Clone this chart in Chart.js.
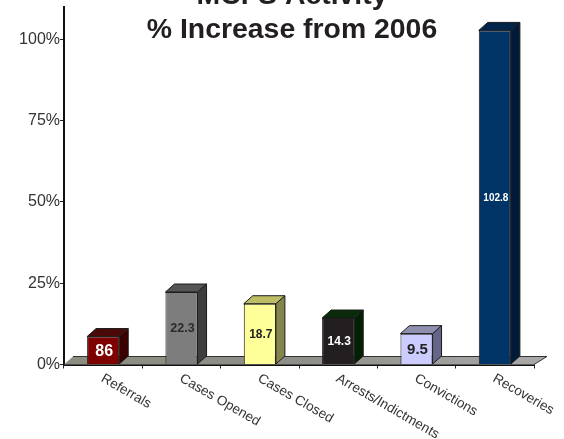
<!DOCTYPE html>
<html><head><meta charset="utf-8">
<style>html,body{margin:0;padding:0;background:#fff}canvas{display:block}</style>
<script src="https://cdn.jsdelivr.net/npm/chart.js@4"></script></head>
<body><canvas id="c" width="564" height="439" style="width:564px;height:439px"></canvas>
<script>
const categories = ["Referrals","Cases Opened","Cases Closed","Arrests/Indictments","Convictions","Recoveries"];
const increases = [8.6,22.3,18.7,14.3,9.5,102.8];
const barLabels = ["86","22.3","18.7","14.3","9.5","102.8"];
const yTicks = [0,25,50,75,100];
const titleLines = ["MCFS Activity","% Increase from 2006"];
const frontColors = ["#7e0000","#7d7d7d","#ffff99","#231f20","#ccccff","#003366"];
const sideColors  = ["#3a0000","#3e3e3e","#84844c","#042004","#65658a","#001a38"];
const topColors   = ["#4a0b08","#555555","#bdbd66","#0a2a0a","#8f8fb0","#00234a"];
const labelColors = ["#ffffff","#2a2a2a","#222222","#ffffff","#222222","#ffffff"];
const labelSizes  = [16,12.5,12,12,15,10];
const FONT = '"Liberation Sans", Arial, sans-serif';
const DX = 9, DY = 8;

const bars3d = {
  id:'bars3d',
  afterLayout(chart){
    if(chart.titleBlock){chart.titleBlock.left=20;chart.titleBlock.right=564;}
  },
  beforeDatasetsDraw(chart){
    const {ctx,scales:{x,y}} = chart;
    const y0 = y.getPixelForValue(0);
    const g = ctx.createLinearGradient(x.left,0,x.right,0);
    g.addColorStop(0,'#8c8c80');g.addColorStop(.5,'#8f8f8a');g.addColorStop(1,'#a8a8a8');
    ctx.save();
    ctx.beginPath();
    ctx.moveTo(x.left,y0);ctx.lineTo(x.left+DX,y0-DY);ctx.lineTo(x.right+DX+4,y0-DY);ctx.lineTo(x.right,y0);ctx.closePath();
    ctx.fillStyle=g;ctx.fill();
    ctx.beginPath();ctx.moveTo(x.left+DX,y0-DY);ctx.lineTo(x.right+DX+4,y0-DY);ctx.lineTo(x.right,y0);
    ctx.strokeStyle='#333';ctx.lineWidth=1;ctx.stroke();
    ctx.lineJoin='round';
    chart.getDatasetMeta(0).data.forEach((b,i)=>{
      const w=b.width,l=b.x-w/2,r=b.x+w/2,t=b.y,bt=b.base;
      ctx.strokeStyle='#1c1c1c';ctx.lineWidth=1;
      ctx.beginPath();ctx.moveTo(r,t);ctx.lineTo(r+DX,t-DY);ctx.lineTo(r+DX,bt-DY);ctx.lineTo(r,bt);ctx.closePath();
      ctx.fillStyle=sideColors[i];ctx.fill();ctx.stroke();
      ctx.beginPath();ctx.moveTo(l,t);ctx.lineTo(l+DX,t-DY);ctx.lineTo(r+DX,t-DY);ctx.lineTo(r,t);ctx.closePath();
      ctx.fillStyle=topColors[i];ctx.fill();ctx.stroke();
    });
    ctx.restore();
  },
  afterDatasetsDraw(chart){
    const {ctx,scales:{x}} = chart;
    ctx.save();
    chart.getDatasetMeta(0).data.forEach((b,i)=>{
      ctx.font=`bold ${labelSizes[i]}px ${FONT}`;
      ctx.fillStyle=labelColors[i];ctx.textAlign='center';ctx.textBaseline='middle';
      ctx.fillText(barLabels[i],b.x+1,(b.y+b.base)/2+1);
    });
    categories.forEach((c,i)=>{
      const px=x.getPixelForTick(i);
      ctx.save();
      ctx.translate(px-1,x.top+13);
      ctx.rotate(30*Math.PI/180);
      ctx.font=`13.6px ${FONT}`;ctx.fillStyle='#333';ctx.textAlign='left';ctx.textBaseline='middle';
      ctx.fillText(c,0,0);
      ctx.restore();
    });
    ctx.restore();
  }
};

new Chart(document.getElementById('c'),{
  type:'bar',
  data:{labels:categories,datasets:[{data:increases,backgroundColor:frontColors,borderColor:'#1c1c1c',borderWidth:1,
    categoryPercentage:1,barPercentage:0.41}]},
  plugins:[bars3d],
  options:{
    responsive:false,animation:false,
    layout:{padding:{left:0,right:30,top:7,bottom:0}},
    plugins:{
      legend:{display:false},tooltip:{enabled:false},
      title:{display:true,text:titleLines,color:'#231f20',font:{family:FONT,size:28.4,weight:'bold',lineHeight:1.2},
        padding:{top:-28,bottom:-40.16},align:'center'}
    },
    scales:{
      x:{grid:{display:true,drawOnChartArea:false,color:'#222',tickLength:4,offset:true},
        border:{color:'#111',width:2},
        ticks:{display:false},
        afterFit(s){s.height=74.5;}},
      y:{min:0,max:110,
        afterFit(s){s.width=64;s.paddingTop=0;s.paddingBottom=0;},
        afterBuildTicks(s){s.ticks=yTicks.map(v=>({value:v}));},
        grid:{drawOnChartArea:false,color:'#222',tickLength:4},
        border:{color:'#111',width:2},
        ticks:{color:'#333',font:{family:FONT,size:16},padding:0,callback:v=>v+'%'}}
    }
  }
});
</script></body></html>
